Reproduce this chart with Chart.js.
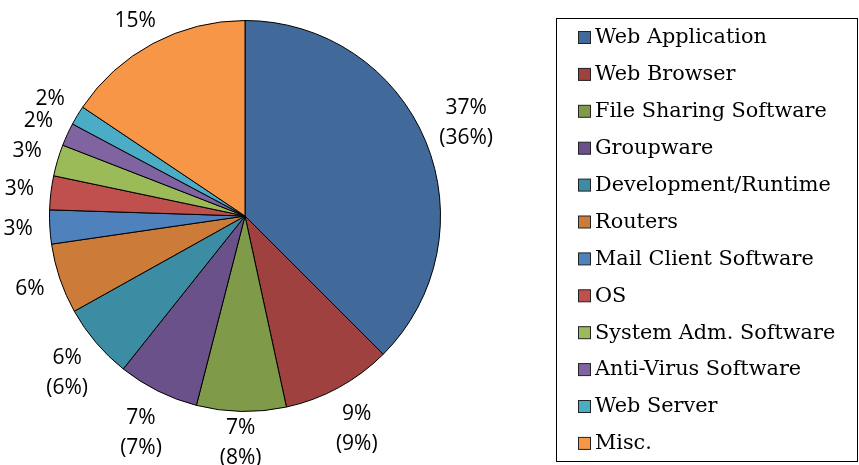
<!DOCTYPE html>
<html>
<head>
<meta charset="utf-8">
<script src="https://cdn.jsdelivr.net/npm/chart.js@4/dist/chart.umd.min.js"></script>
<style>
  html, body { margin: 0; padding: 0; background: #fff; }
  #wrap { width: 859px; height: 465px; }
</style>
</head>
<body>
<div id="wrap"><canvas id="c" width="859" height="465"></canvas></div>
<script>
const categories = ['Web Application', 'Web Browser', 'File Sharing Software', 'Groupware',
  'Development/Runtime', 'Routers', 'Mail Client Software', 'OS', 'System Adm. Software',
  'Anti-Virus Software', 'Web Server', 'Misc.'];
const shares = [37.5, 9.1, 7.4, 6.7, 6.2, 5.8, 2.8, 2.8, 2.6, 1.9, 1.6, 15.6];
const shareLabels = ['37%', '9%', '7%', '7%', '6%', '6%', '3%', '3%', '3%', '2%', '2%', '15%'];
const priorLabels = ['(36%)', '(9%)', '(8%)', '(7%)', '(6%)', '', '', '', '', '', '', ''];
const colors = ['#416A9B', '#9E413F', '#7F9A48', '#6A518A', '#3C8DA3', '#CC7B38',
  '#4F81BD', '#C0504D', '#9BBB59', '#8064A2', '#4BACC6', '#F79646'];

const labelFont = '21px "Open Sans"';
const lineH = 30;
const gap = 17;

const outsideLabels = {
  id: 'outsideLabels',
  afterDatasetsDraw(chart) {
    const ctx = chart.ctx;
    const meta = chart.getDatasetMeta(0);
    ctx.save();
    ctx.font = labelFont;
    ctx.fillStyle = '#000';
    ctx.textAlign = 'center';
    ctx.textBaseline = 'middle';
    meta.data.forEach((arc, i) => {
      const p = arc.getProps(['x', 'y', 'startAngle', 'endAngle', 'outerRadius'], true);
      const mid = (p.startAngle + p.endAngle) / 2;
      const lines = [shareLabels[i]];
      if (priorLabels[i]) lines.push(priorLabels[i]);
      const w = Math.max(...lines.map(t => ctx.measureText(t).width));
      const h = lines.length * lineH;
      const c = Math.cos(mid), s = Math.sin(mid);
      const px = p.x + (p.outerRadius + gap) * c;
      const py = p.y + (p.outerRadius + gap) * s;
      const cx = px + (w / 2) * c;
      let cy = py + (h / 2) * s;
      cy = Math.min(cy, chart.height - h / 2 + 8);
      cy = Math.max(cy, h / 2 + 6);
      lines.forEach((t, k) => {
        ctx.fillText(t, cx, cy - h / 2 + lineH * (k + 0.5));
      });
    });
    ctx.restore();
  }
};

const boxLegend = {
  id: 'boxLegend',
  afterDraw(chart) {
    const ctx = chart.ctx;
    const ds = chart.data.datasets[0];
    ctx.save();
    ctx.strokeStyle = '#000';
    ctx.lineWidth = 1;
    ctx.strokeRect(556.5, 18.5, 301, 443);
    ctx.font = '20.8px "DejaVu Serif"';
    ctx.textBaseline = 'middle';
    ctx.textAlign = 'left';
    chart.data.labels.forEach((lab, i) => {
      const y = 37 + i * 36.9;
      ctx.fillStyle = ds.backgroundColor[i];
      ctx.fillRect(578.5, y - 5.5, 12, 12);
      ctx.strokeStyle = '#222';
      ctx.strokeRect(578.5, y - 5.5, 12, 12);
      ctx.fillStyle = '#000';
      ctx.fillText(lab, 595, y + 1);
    });
    ctx.restore();
  }
};

new Chart(document.getElementById('c'), {
  type: 'pie',
  data: {
    labels: categories,
    datasets: [{
      data: shares,
      backgroundColor: colors,
      borderColor: '#000',
      borderWidth: 1
    }]
  },
  options: {
    responsive: false,
    animation: false,
    layout: { padding: { left: 49, top: 20, right: 418, bottom: 53 } },
    plugins: {
      legend: { display: false },
      tooltip: { enabled: false }
    }
  },
  plugins: [outsideLabels, boxLegend]
});
</script>
</body>
</html>
